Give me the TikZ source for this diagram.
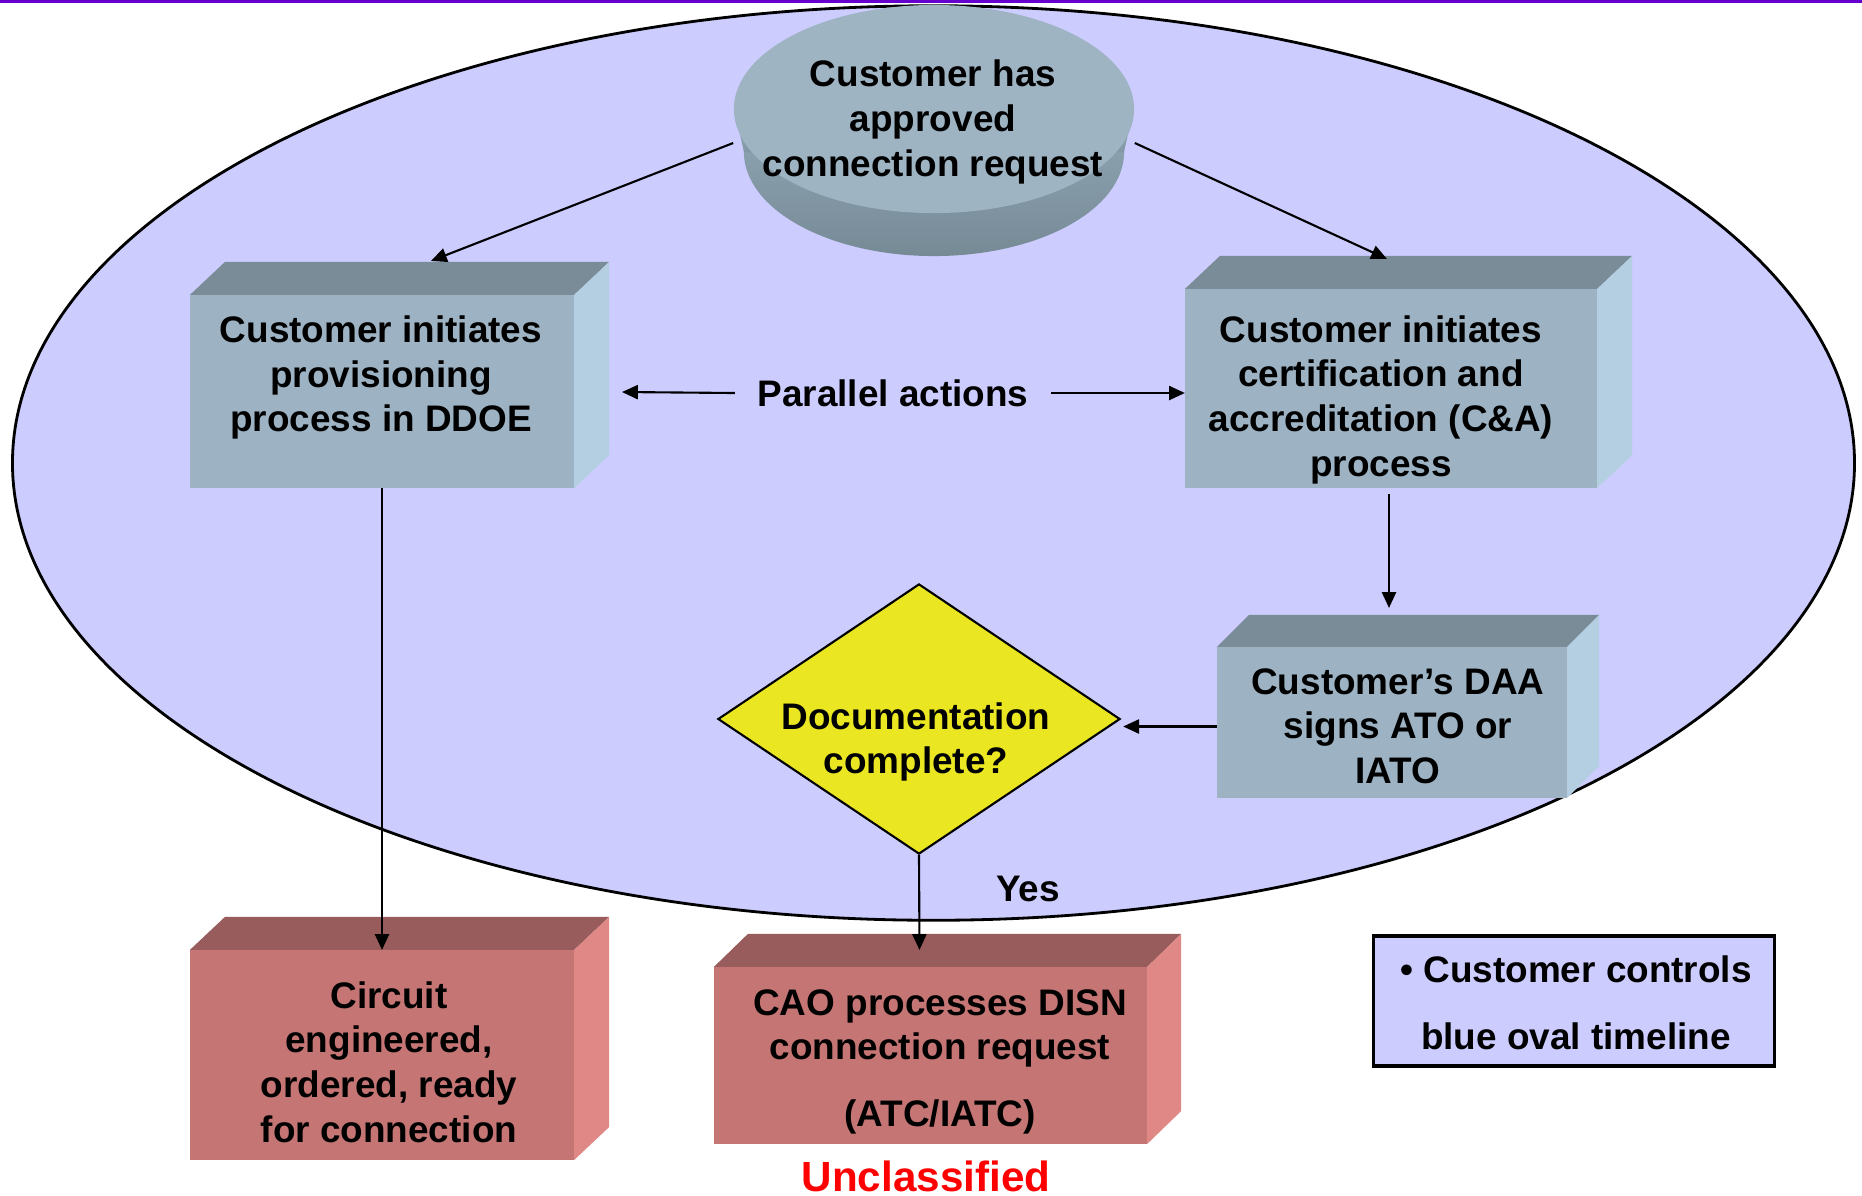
\documentclass[tikz,border=0pt]{standalone}
\usepackage{fontspec}
\setmainfont{Liberation Sans}
\usetikzlibrary{shapes.geometric,arrows.meta,calc}
\definecolor{ovalc}{HTML}{CCCCFF}
\definecolor{barc}{HTML}{6600CC}
\definecolor{gfront}{HTML}{9DB3C3}
\definecolor{gtop}{HTML}{7A8C97}
\definecolor{gside}{HTML}{B4CFE2}
\definecolor{rfront}{HTML}{C47574}
\definecolor{rtop}{HTML}{975C5B}
\definecolor{rside}{HTML}{E08886}
\definecolor{diskface}{HTML}{9EB4C3}
\definecolor{diskdark}{HTML}{768A96}
\definecolor{diay}{HTML}{EAE622}
\definecolor{unred}{HTML}{FF0000}
\newcommand\mycube[7]{%
  \node[face, fill=#7front, minimum width=#3, minimum height=#4] (#1) at #2 {};
  \fill[#7top] (#1.north west) -- ++(#5,-#6) -- ([shift={(#5,-#6)}]#1.north east) -- (#1.north east) -- cycle;
  \fill[#7side] (#1.north east) -- ++(#5,-#6) -- ([shift={(#5,-#6)}]#1.south east) -- (#1.south east) -- cycle;
}
\begin{document}
\begin{tikzpicture}[x=0.01cm,y=-0.01cm,
  face/.style={rectangle, inner sep=0pt, outer sep=0pt},
  txt/.style={align=center, inner sep=0pt, font=\bfseries\fontsize{10.5pt}{12.7pt}\selectfont},
  arr/.style={-{Triangle[length=4.5pt,width=4pt]}, line width=0.6pt}]
\useasboundingbox (0,0) rectangle (1862,1196);
\fill[white] (0,0) rectangle (1862,1196);
% big oval
\node[ellipse, draw, line width=0.8pt, fill=ovalc, minimum width=18.41cm, minimum height=9.14cm, inner sep=0pt] (oval) at (933.5,463) {};
\fill[barc] (0,0) rectangle (1862,3);
% disk
\shade[top color=diskface, bottom color=diskdark] (934,152) ellipse [x radius=1.9cm, y radius=1.04cm];
\shade[top color=diskface, bottom color=diskdark!70!diskface] (734,108) -- (1134,108) -- (1124,152) -- (744,152) -- cycle;
\node[ellipse, fill=diskface, minimum width=4.0cm, minimum height=2.08cm, inner sep=0pt] (disk) at (934,109) {};
\node[txt] (disktxt) at (933,122) {Customer has\\approved\\connection request};
% boxes
\mycube{b1}{(382,391.5)}{3.84cm}{1.93cm}{35}{33}{g}
\mycube{b2}{(1391,388.5)}{4.12cm}{1.99cm}{35}{33}{g}
\mycube{daa}{(1392,722.5)}{3.50cm}{1.51cm}{32}{32}{g}
\mycube{cir}{(382,1055)}{3.84cm}{2.10cm}{35}{33}{r}
\mycube{cao}{(930.5,1055.5)}{4.33cm}{1.77cm}{34}{33}{r}
% diamond
\node[diamond, draw, line width=0.6pt, fill=diay, minimum width=4.02cm, minimum height=2.70cm, inner sep=0pt] (dia) at (919,719) {};
% texts
\node[txt] (t1) at (381,377.5) {Customer initiates\\provisioning\\process in DDOE};
\node[txt] (t2) at (1381,399.5) {Customer initiates\\certification and\\accreditation (C\&A)\\process};
\node[txt] (t3) at (1398,726) {Customer’s DAA\\signs ATO or\\IATO};
\node[txt] (t4) at (916,742) {Documentation\\complete?};
\node[txt] (t5) at (389,1062) {Circuit\\engineered,\\ordered, ready\\for connection};
\node[txt] (t6) at (940,1062) {CAO processes DISN\\connection request\\[6.3pt](ATC/IATC)};
\node[txt, inner xsep=0.22cm] (par) at (893,393) {Parallel actions};
\node[txt] (yes) at (1028,889) {Yes};
% legend
\node[rectangle, draw, line width=0.9pt, fill=ovalc, minimum width=4.0cm, minimum height=1.30cm, inner sep=0pt] (leg) at (1574,1001) {};
\node[txt] (legtxt) at (1576,1003) {• Customer controls\\[6.3pt]blue oval timeline};
\node[inner sep=0pt, font=\bfseries\fontsize{12pt}{14pt}\selectfont, text=unred] (uncl) at (926,1176) {Unclassified};
% connectors
\coordinate (pl) at (622,392);
\draw[arr] ($(disk.west)+(0,34)$) -- ($(b1.north)+(49,-34)$);
\draw[arr] ($(disk.east)+(0,34)$) -- ($(b2.north)+(-4,-30)$);
\draw[arr] (par.west) -- (pl);
\draw[arr] (par.east) -- (par.east -| b2.west);
\draw[arr] ($(b2.south)+(-2,6)$) -- ($(daa.north)+(-3,-39)$);
\draw[arr] ($(daa.west)+(0,4)$) -- ($(daa.west -| dia.east)+(2,4)$);
\draw[arr] (dia.south) -- ($(cao.north)+(-11,-17)$);
\draw[arr] (b1.south) -- (cir.north);
\end{tikzpicture}
\end{document}
